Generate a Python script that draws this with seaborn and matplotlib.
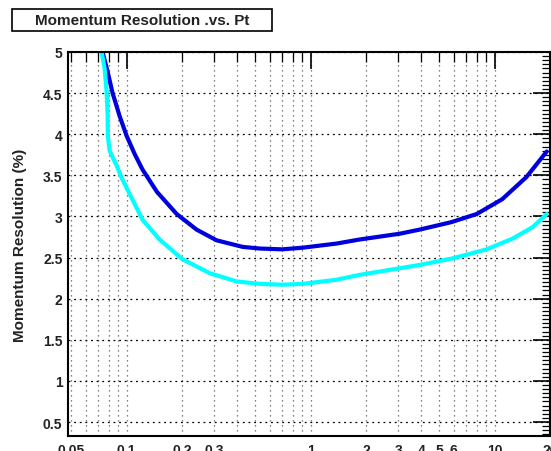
import numpy as np
import pandas as pd
import matplotlib
matplotlib.use('Agg')
import matplotlib.pyplot as plt
import seaborn as sns
from matplotlib.ticker import FixedLocator, FuncFormatter, MultipleLocator
from matplotlib.patches import Rectangle

sns.set_style('white')
plt.rcParams['font.family'] = ['Liberation Sans', 'DejaVu Sans']

# curves (pt, resolution %)
pt_blue = [0.074, 0.0788, 0.0839, 0.0916, 0.100, 0.1105, 0.122, 0.146, 0.187, 0.240, 0.308,
           0.427, 0.528, 0.70, 0.905, 1.38, 1.85, 3.05, 3.91, 5.8, 8.0, 11.0, 14.9, 19.2]
res_blue = [5.0, 4.76, 4.50, 4.22, 3.98, 3.76, 3.57, 3.30, 3.03, 2.84, 2.71,
            2.63, 2.61, 2.60, 2.62, 2.67, 2.72, 2.79, 2.84, 2.93, 3.03, 3.21, 3.48, 3.79]

pt_cyan = [0.0731, 0.0759, 0.0778, 0.0788, 0.0790, 0.0808, 0.0839, 0.0882, 0.0939, 0.104,
           0.122, 0.151, 0.201, 0.283, 0.396, 0.528, 0.70, 0.905, 1.38, 1.85, 3.05, 3.91,
           5.91, 9.05, 12.5, 16.1, 19.2]
res_cyan = [5.0, 4.80, 4.52, 4.24, 3.98, 3.80, 3.72, 3.62, 3.47, 3.27,
            2.96, 2.72, 2.48, 2.31, 2.21, 2.18, 2.17, 2.18, 2.23, 2.29, 2.37, 2.41,
            2.49, 2.60, 2.73, 2.87, 3.03]

xlabels_shown = [0.05, 0.1, 0.2, 0.3, 1, 2, 3, 4, 5, 6, 10, 20]
title = 'Momentum Resolution .vs. Pt'
ylabel = 'Momentum Resolution (%)'

fig = plt.figure(figsize=(5.51, 4.52), dpi=100)
ax = fig.add_axes([68/551, 15/452, 482/551, 384/452])

sns.lineplot(x=pt_blue, y=res_blue, color='#0000dd', lw=3, ax=ax, sort=False)
sns.lineplot(x=pt_cyan, y=res_cyan, color='#00ffff', lw=3, ax=ax, sort=False)

ax.set_xscale('log')
ax.set_xlim(0.048, 20)
ax.set_ylim(0.33, 5)

# x ticks: decades major, 2..9 minor
ax.xaxis.set_major_locator(FixedLocator([0.1, 1, 10]))
minors = [m * d for d in [0.01, 0.1, 1, 10] for m in range(2, 10)]
minors = [v for v in minors if 0.048 <= v <= 20]
ax.xaxis.set_minor_locator(FixedLocator(minors))

def fmt(v, pos):
    for s in xlabels_shown:
        if abs(v - s) / s < 1e-6:
            return '%g' % s
    return ''

ax.xaxis.set_major_formatter(FuncFormatter(fmt))
ax.xaxis.set_minor_formatter(FuncFormatter(fmt))

ax.yaxis.set_major_locator(MultipleLocator(0.5))
ax.yaxis.set_minor_locator(MultipleLocator(0.05))
ax.yaxis.set_major_formatter(FuncFormatter(lambda v, p: '%g' % v))

ax.tick_params(which='both', direction='in', top=True, right=True, color='black')
ax.tick_params(which='major', length=12, width=1.2)
ax.tick_params(which='minor', length=6, width=0.9)
ax.tick_params(axis='x', which='minor', length=7)
ax.tick_params(axis='x', which='both', labelsize=10, pad=5)
ax.tick_params(axis='y', which='both', labelsize=10, pad=4)
for lab in ax.get_xticklabels(which='both') + ax.get_yticklabels():
    lab.set_fontweight('bold')
    lab.set_color('#222222')

ax.grid(axis='x', which='both', color='0.35', linestyle=(0, (1, 3)), lw=0.9)
ax.grid(axis='y', which='major', color='black', linestyle=(0, (1.5, 3)), lw=0.9)

for s in ax.spines.values():
    s.set_color('black')
    s.set_linewidth(1.5)

ax.set_xlabel('')
ax.set_ylabel(ylabel, fontsize=11, fontweight='bold', color='#222222')
ax.yaxis.set_label_coords(-0.085, 0.5)

# title box
fig.patches.append(Rectangle((12/551, 1 - 32/452), 260/551, 22/452, transform=fig.transFigure,
                             facecolor='white', edgecolor='black', lw=1.2))
fig.text(142/551, 1 - 21/452, title, ha='center', va='center', fontsize=11,
         fontweight='bold', color='#222222')

fig.savefig('out.png', dpi=100)
